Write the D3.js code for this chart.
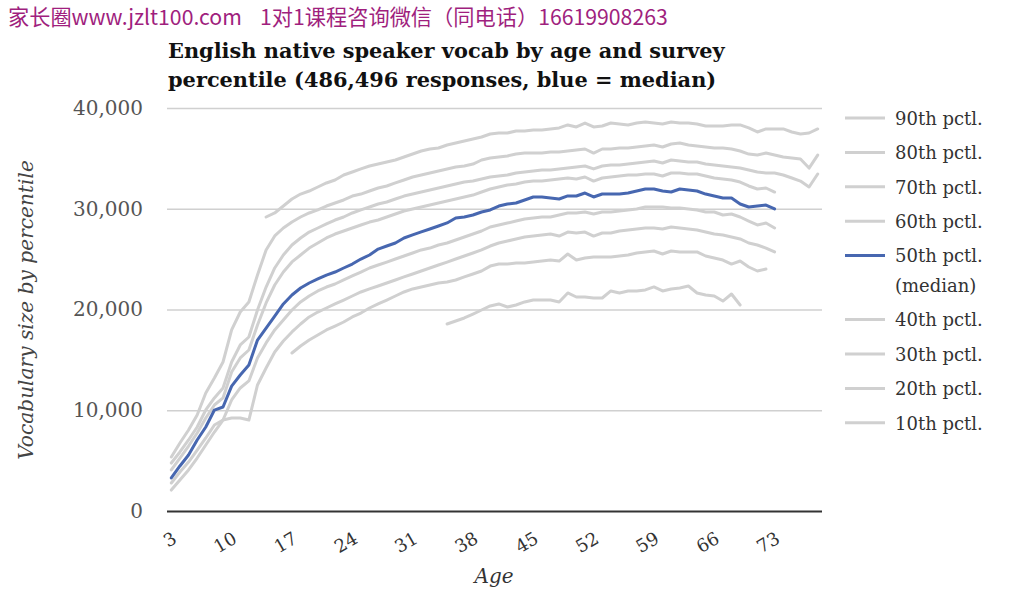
<!DOCTYPE html>
<html><head><meta charset="utf-8">
<script src="https://cdn.jsdelivr.net/npm/d3@7"></script>
<style>body{margin:0;background:#fff;} svg{display:block;background:#fff;}</style>
</head><body><svg id="chart" width="1014" height="614"></svg>
<script>
// ---------------- data ----------------
const ages = [3,4,5,6,7,8,9,10,11,12,13,14,15,16,17,18,19,20,21,22,23,24,25,26,27,28,29,30,31,32,33,34,35,36,37,38,39,40,41,42,43,44,45,46,47,48,49,50,51,52,53,54,55,56,57,58,59,60,61,62,63,64,65,66,67,68,69,70,71,72,73,74,75,76,77,78];
const xTickAges = [3,10,17,24,31,38,45,52,59,66,73];
const yTicks = [0,10000,20000,30000,40000];
const seriesNames = ["90th pctl.","80th pctl.","70th pctl.","60th pctl.","50th pctl.","40th pctl.","30th pctl.","20th pctl.","10th pctl."];
const medianNote = "(median)";
const startAges = [14,3,3,3,3,3,3,17,35];

const p90 = [29180,29580,30270,30970,31460,31760,32160,32560,32850,33350,
  33650,33950,34240,34440,34640,34840,35140,35430,35730,35930,
  36030,36330,36530,36730,36920,37120,37420,37520,37520,37720,
  37720,37820,37820,37920,38020,38320,38120,38510,38120,38210,
  38510,38410,38320,38510,38610,38510,38410,38610,38510,38510,
  38410,38210,38210,38210,38320,38320,38020,37620,37920,37920,
  37920,37620,37420,37520,37920];
const p80 = [5360,6750,8040,9530,11710,13200,14790,17970,19750,20750,
  23430,25910,27300,28090,28690,29180,29580,29880,30270,30570,
  30870,31260,31460,31760,32060,32260,32560,32850,33150,33350,
  33550,33750,33950,34140,34240,34440,34840,35040,35140,35240,
  35430,35530,35530,35530,35630,35630,35730,35830,35930,35530,
  35930,35930,36030,36030,36130,36230,36330,36130,36430,36530,
  36330,36230,36130,36030,36030,35930,35730,35430,35330,35530,
  35330,35140,35040,34940,34040,35330];
const p70 = [4760,5860,7050,8340,10030,11220,12210,14790,16480,17270,
  19950,22230,24120,25410,26400,27100,27690,28090,28490,28880,
  29180,29580,29880,30170,30470,30670,30970,31260,31460,31660,
  31860,32060,32260,32460,32650,32750,32950,33150,33250,33350,
  33550,33650,33750,33850,33850,33950,34040,34140,34240,33950,
  34240,34340,34340,34440,34540,34640,34740,34540,34840,34740,
  34640,34640,34440,34340,34240,34140,34040,33850,33650,33550,
  33550,33350,33050,32750,32160,33450];
const p60 = [4070,5260,6450,7740,9230,10520,11220,13800,15190,15980,
  18460,20650,22430,23720,24720,25410,26100,26600,27100,27490,
  27790,28090,28390,28680,28880,29180,29480,29780,29980,30170,
  30370,30570,30770,30970,31170,31360,31660,31960,32160,32360,
  32460,32650,32750,32750,32850,32950,33050,32950,33150,32750,
  33050,33150,33250,33350,33350,33450,33450,33250,33550,33550,
  33450,33450,33250,33050,32950,32850,32650,32260,31960,32060,
  31660];
const p50 = [3280,4470,5560,7050,8340,10020,10320,12400,13500,14490,
  16970,18160,19350,20550,21440,22130,22630,23030,23420,23720,
  24120,24510,25010,25410,26000,26300,26600,27100,27400,27700,
  27990,28290,28590,29080,29180,29380,29680,29880,30270,30470,
  30570,30870,31170,31170,31070,30970,31270,31270,31560,31170,
  31460,31460,31460,31560,31760,31960,31960,31760,31660,31960,
  31860,31760,31460,31270,31070,31070,30470,30170,30270,30370,
  29980];
const p40 = [2780,3870,4860,6050,7250,8540,9030,11020,12210,12910,
  15190,16680,17970,18960,19950,20750,21340,21840,22230,22530,
  22930,23330,23720,24120,24420,24710,25010,25310,25610,25910,
  26100,26400,26600,26900,27200,27490,27790,28190,28390,28580,
  28780,28980,29080,29180,29180,29380,29580,29580,29680,29480,
  29680,29680,29780,29880,29980,30170,30170,30170,30070,30070,
  29980,29880,29680,29680,29380,29480,29180,28780,28390,28580,
  28090];
const p30 = [2080,3080,4070,5260,6550,7840,9030,9230,9230,9030,
  12510,14190,15780,16870,17770,18560,19260,19750,20150,20550,
  20940,21340,21740,22040,22330,22630,22930,23230,23520,23820,
  24120,24420,24710,25010,25310,25610,25910,26300,26600,26800,
  27000,27200,27290,27390,27490,27290,27690,27590,27690,27290,
  27590,27590,27790,27890,27990,28090,28090,27990,28190,28090,
  27990,27890,27690,27490,27390,27200,27000,26600,26400,26100,
  25710];
const p20 = [15680,16380,16970,17470,17970,18360,18760,19260,19650,20150,
  20550,20940,21340,21740,22040,22230,22430,22630,22730,22930,
  23230,23520,23820,24310,24510,24510,24610,24610,24710,24810,
  24910,24810,25510,24910,25110,25210,25210,25210,25310,25410,
  25610,25710,25810,25510,25810,25710,25710,25710,25310,25110,
  24910,24510,24810,24220,23820,24020];
const p10 = [18560,18860,19160,19550,19950,20350,20550,20250,20450,20750,
  20940,20940,20940,20750,21640,21240,21240,21140,21140,21840,
  21640,21840,21840,21940,22240,21840,22040,22130,22330,21640,
  21440,21340,20840,21540,20450];
const seriesValues = [p90,p80,p70,p60,p50,p40,p30,p20,p10];

const titleLines = ["English native speaker vocab by age and survey","percentile (486,496 responses, blue = median)"];
const watermarkA = "家长圈www.jzlt100.com";
const watermarkB = "1对1课程咨询微信（同电话）16619908263";
const yTitle = "Vocabulary size by percentile";
const xTitle = "Age";

// ---------------- drawing ----------------
const svg = d3.select("#chart");
const W = 1014, H = 614;
const plot = {left:167, right:822, top:108, bottom:511};
const GRAY = "#d0d0d0", BLUE = "#4767b0";
const serif = "'DejaVu Serif', Georgia, serif";

function fit(sel, w){
  const L = sel.node().getComputedTextLength();
  const fs = parseFloat(sel.attr("font-size"));
  sel.attr("font-size", fs*w/L);
  return fs*w/L;
}

const x = d3.scalePoint().domain(ages).range([plot.left, plot.right]).padding(0.5);
const y = d3.scaleLinear().domain([0,40000]).range([plot.bottom, plot.top]);

// watermark
const wa = svg.append("text").attr("x",8).attr("y",25).attr("font-family","'Noto Sans CJK SC', sans-serif")
  .attr("font-size",20).attr("fill","#a01f7e").text(watermarkA);
fit(wa, 234);
const wb = svg.append("text").attr("x",260).attr("y",25).attr("font-family","'Noto Sans CJK SC', sans-serif")
  .attr("font-size",20).attr("fill","#a01f7e").text(watermarkB);
fit(wb, 408);

// title
const t1 = svg.append("text").attr("x",168).attr("y",58).attr("font-family",serif).attr("font-weight","bold")
  .attr("font-size",20).attr("fill","#111").text(titleLines[0]);
const tfs = fit(t1, 557);
svg.append("text").attr("x",168).attr("y",87).attr("font-family",serif).attr("font-weight","bold")
  .attr("font-size",tfs).attr("fill","#111").text(titleLines[1]);

// y axis with gridlines
const yAxis = svg.append("g").attr("transform",`translate(${plot.left},0)`)
  .call(d3.axisLeft(y).tickValues(yTicks).tickSize(-(plot.right-plot.left)).tickPadding(24).tickFormat(d3.format(",")));
yAxis.select(".domain").remove();
yAxis.selectAll(".tick line").attr("stroke", d => d===0 ? "#333" : GRAY).attr("stroke-width", d => d===0 ? 2 : 1.5);
yAxis.selectAll(".tick text").attr("font-family",serif).attr("font-size",20).attr("fill","#555");

// x axis
const xAxis = svg.append("g").attr("transform",`translate(0,${plot.bottom})`)
  .call(d3.axisBottom(x).tickValues(xTickAges).tickSize(0).tickPadding(0));
xAxis.select(".domain").remove();
xAxis.selectAll(".tick text")
  .attr("font-family",serif).attr("font-size",18).attr("fill","#333")
  .attr("text-anchor","end").attr("dy",0)
  .attr("transform","translate(6,31) rotate(-30)");

// axis titles
const yt = svg.append("text").attr("transform","translate(33,310) rotate(-90)").attr("text-anchor","middle")
  .attr("font-family",serif).attr("font-style","italic").attr("font-size",20).attr("fill","#444").text(yTitle);
fit(yt, 300);
svg.append("text").attr("x",494).attr("y",583).attr("text-anchor","middle")
  .attr("font-family",serif).attr("font-style","italic").attr("font-size",20).attr("fill","#333").text(xTitle);

// lines
const line = d3.line().x(d => x(d.age)).y(d => y(d.v));
const series = seriesValues.map((vals,i) => ({
  name: seriesNames[i], median: i===4,
  pts: vals.map((v,j) => ({age: startAges[i]+j, v}))
}));
const g = svg.append("g");
g.selectAll("path.gray").data(series.filter(s=>!s.median)).join("path")
  .attr("class","gray").attr("d", s => line(s.pts))
  .attr("fill","none").attr("stroke",GRAY).attr("stroke-width",3).attr("stroke-linejoin","round").attr("stroke-linecap","round");
g.selectAll("path.blue").data(series.filter(s=>s.median)).join("path")
  .attr("class","blue").attr("d", s => line(s.pts))
  .attr("fill","none").attr("stroke",BLUE).attr("stroke-width",3).attr("stroke-linejoin","round").attr("stroke-linecap","round");

// legend
const leg = svg.append("g");
series.forEach((s,i) => {
  const ly = 118 + i*34.4 + (i>4 ? 29.6 : 0);
  leg.append("line").attr("x1",845).attr("x2",885).attr("y1",ly).attr("y2",ly)
    .attr("stroke", s.median ? BLUE : GRAY).attr("stroke-width",3);
  leg.append("text").attr("x",895).attr("y",ly).attr("dy","0.38em")
    .attr("font-family",serif).attr("font-size",18).attr("fill","#333").text(s.name);
  if (s.median) {
    leg.append("text").attr("x",895).attr("y",ly+29.6).attr("dy","0.38em")
      .attr("font-family",serif).attr("font-size",18).attr("fill","#333").text(medianNote);
  }
});
</script>
</body></html>
